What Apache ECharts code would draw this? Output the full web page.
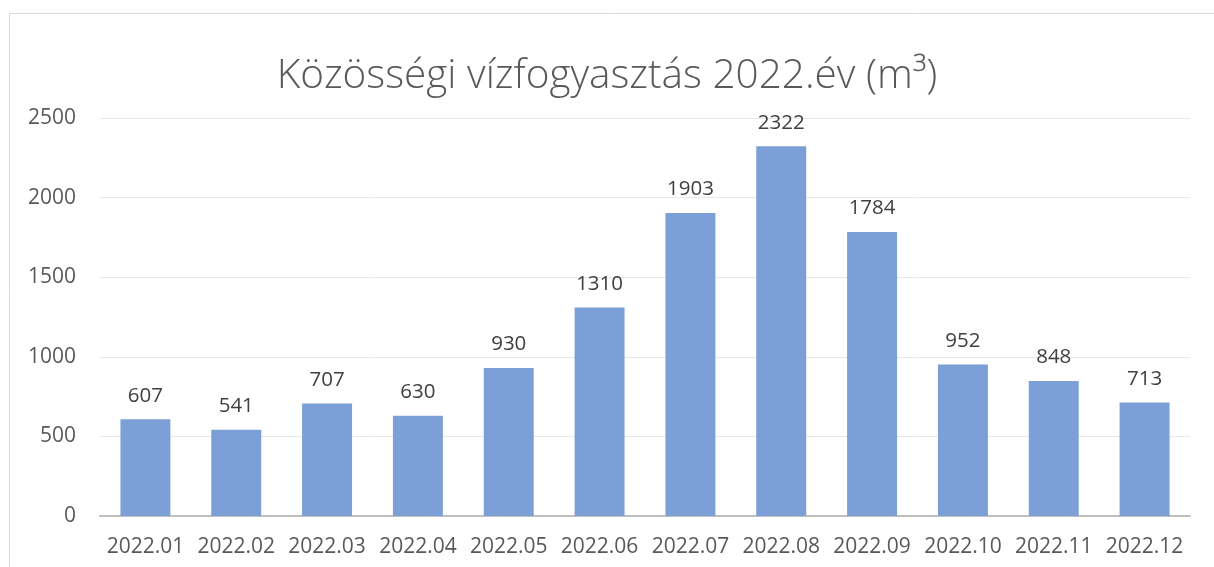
<!DOCTYPE html>
<html>
<head>
<meta charset="utf-8">
<script src="https://cdn.jsdelivr.net/npm/echarts@6/dist/echarts.min.js"></script>
<style>
  html, body { margin: 0; padding: 0; background: #fff; }
  #main { width: 1214px; height: 567px; }
</style>
</head>
<body>
<div id="main"></div>
<script>
// havi adatok
var months = ['2022.01', '2022.02', '2022.03', '2022.04', '2022.05', '2022.06',
              '2022.07', '2022.08', '2022.09', '2022.10', '2022.11', '2022.12'];
var usage = [607, 541, 707, 630, 930, 1310, 1903, 2322, 1784, 952, 848, 713];
var yTicks = [0, 500, 1000, 1500, 2000, 2500];

var chart = echarts.init(document.getElementById('main'));
chart.setOption({
    animation: false,
    textStyle: {fontFamily: 'Open Sans'},
    title: {
        text: 'Közösségi vízfogyasztás 2022.év (m³)',
        left: 'center',
        top: 51,
        textStyle: {fontSize: 40.5, fontWeight: 300, color: '#595959', fontFamily: 'Open Sans'}
    },
    // keret
    graphic: [{
        type: 'rect',
        shape: {x: 9.5, y: 13.5, width: 1220, height: 600},
        style: {fill: 'none', stroke: '#d9d9d9', lineWidth: 1},
        silent: true
    }],
    grid: {left: 100, right: 24, top: 118, bottom: 51},
    xAxis: {
        type: 'category',
        data: months,
        axisTick: {show: false},
        axisLine: {lineStyle: {color: '#bfbfbf', width: 2}},
        axisLabel: {color: '#595959', fontSize: 21, margin: 21, interval: 0}
    },
    yAxis: {
        type: 'value',
        min: yTicks[0],
        max: yTicks[yTicks.length - 1],
        interval: 500,
        axisLine: {show: false},
        axisTick: {show: false},
        axisLabel: {color: '#595959', fontSize: 21, margin: 24, formatter: function (v) { return String(v); }},
        splitLine: {lineStyle: {color: '#e8e8e8', width: 1}}
    },
    series: [{
        type: 'bar',
        data: usage,
        barWidth: '55%',
        itemStyle: {color: '#7b9fd6'},
        label: {
            show: true,
            position: 'top',
            distance: 13,
            color: '#404040',
            fontSize: 20.5
        }
    }]
});
</script>
</body>
</html>
